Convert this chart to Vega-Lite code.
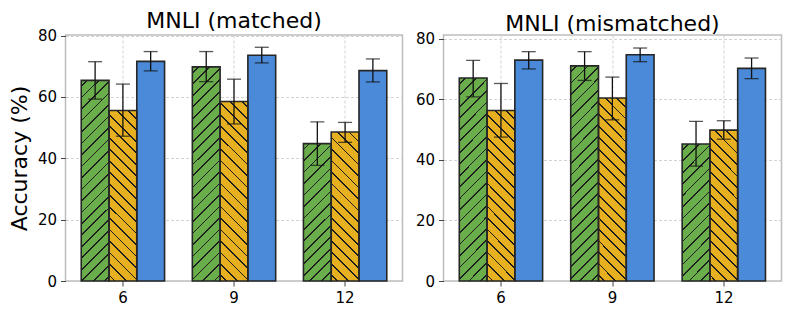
{
  "$schema": "https://vega.github.io/schema/vega-lite/v6.json",
  "padding": {"left": 7.5, "top": 8, "right": 5, "bottom": 5},
  "background": "white",
  "params": [
    {"name": "hatchStops", "value": [
      {"offset": 0, "color": "rgba(0,0,0,0)"},
      {"offset": 0.017, "color": "rgba(0,0,0,0)"}, {"offset": 0.017, "color": "#1e1e1e"}, {"offset": 0.023, "color": "#1e1e1e"}, {"offset": 0.023, "color": "rgba(0,0,0,0)"},
      {"offset": 0.0553, "color": "rgba(0,0,0,0)"}, {"offset": 0.0553, "color": "#1e1e1e"}, {"offset": 0.0613, "color": "#1e1e1e"}, {"offset": 0.0613, "color": "rgba(0,0,0,0)"},
      {"offset": 0.0937, "color": "rgba(0,0,0,0)"}, {"offset": 0.0937, "color": "#1e1e1e"}, {"offset": 0.0997, "color": "#1e1e1e"}, {"offset": 0.0997, "color": "rgba(0,0,0,0)"},
      {"offset": 0.132, "color": "rgba(0,0,0,0)"}, {"offset": 0.132, "color": "#1e1e1e"}, {"offset": 0.138, "color": "#1e1e1e"}, {"offset": 0.138, "color": "rgba(0,0,0,0)"},
      {"offset": 0.1703, "color": "rgba(0,0,0,0)"}, {"offset": 0.1703, "color": "#1e1e1e"}, {"offset": 0.1763, "color": "#1e1e1e"}, {"offset": 0.1763, "color": "rgba(0,0,0,0)"},
      {"offset": 0.2087, "color": "rgba(0,0,0,0)"}, {"offset": 0.2087, "color": "#1e1e1e"}, {"offset": 0.2147, "color": "#1e1e1e"}, {"offset": 0.2147, "color": "rgba(0,0,0,0)"},
      {"offset": 0.247, "color": "rgba(0,0,0,0)"}, {"offset": 0.247, "color": "#1e1e1e"}, {"offset": 0.253, "color": "#1e1e1e"}, {"offset": 0.253, "color": "rgba(0,0,0,0)"},
      {"offset": 0.2853, "color": "rgba(0,0,0,0)"}, {"offset": 0.2853, "color": "#1e1e1e"}, {"offset": 0.2913, "color": "#1e1e1e"}, {"offset": 0.2913, "color": "rgba(0,0,0,0)"},
      {"offset": 0.3237, "color": "rgba(0,0,0,0)"}, {"offset": 0.3237, "color": "#1e1e1e"}, {"offset": 0.3297, "color": "#1e1e1e"}, {"offset": 0.3297, "color": "rgba(0,0,0,0)"},
      {"offset": 0.362, "color": "rgba(0,0,0,0)"}, {"offset": 0.362, "color": "#1e1e1e"}, {"offset": 0.368, "color": "#1e1e1e"}, {"offset": 0.368, "color": "rgba(0,0,0,0)"},
      {"offset": 0.4003, "color": "rgba(0,0,0,0)"}, {"offset": 0.4003, "color": "#1e1e1e"}, {"offset": 0.4063, "color": "#1e1e1e"}, {"offset": 0.4063, "color": "rgba(0,0,0,0)"},
      {"offset": 0.4387, "color": "rgba(0,0,0,0)"}, {"offset": 0.4387, "color": "#1e1e1e"}, {"offset": 0.4447, "color": "#1e1e1e"}, {"offset": 0.4447, "color": "rgba(0,0,0,0)"},
      {"offset": 0.477, "color": "rgba(0,0,0,0)"}, {"offset": 0.477, "color": "#1e1e1e"}, {"offset": 0.483, "color": "#1e1e1e"}, {"offset": 0.483, "color": "rgba(0,0,0,0)"},
      {"offset": 0.5153, "color": "rgba(0,0,0,0)"}, {"offset": 0.5153, "color": "#1e1e1e"}, {"offset": 0.5213, "color": "#1e1e1e"}, {"offset": 0.5213, "color": "rgba(0,0,0,0)"},
      {"offset": 0.5537, "color": "rgba(0,0,0,0)"}, {"offset": 0.5537, "color": "#1e1e1e"}, {"offset": 0.5597, "color": "#1e1e1e"}, {"offset": 0.5597, "color": "rgba(0,0,0,0)"},
      {"offset": 0.592, "color": "rgba(0,0,0,0)"}, {"offset": 0.592, "color": "#1e1e1e"}, {"offset": 0.598, "color": "#1e1e1e"}, {"offset": 0.598, "color": "rgba(0,0,0,0)"},
      {"offset": 0.6303, "color": "rgba(0,0,0,0)"}, {"offset": 0.6303, "color": "#1e1e1e"}, {"offset": 0.6363, "color": "#1e1e1e"}, {"offset": 0.6363, "color": "rgba(0,0,0,0)"},
      {"offset": 0.6687, "color": "rgba(0,0,0,0)"}, {"offset": 0.6687, "color": "#1e1e1e"}, {"offset": 0.6747, "color": "#1e1e1e"}, {"offset": 0.6747, "color": "rgba(0,0,0,0)"},
      {"offset": 0.707, "color": "rgba(0,0,0,0)"}, {"offset": 0.707, "color": "#1e1e1e"}, {"offset": 0.713, "color": "#1e1e1e"}, {"offset": 0.713, "color": "rgba(0,0,0,0)"},
      {"offset": 0.7453, "color": "rgba(0,0,0,0)"}, {"offset": 0.7453, "color": "#1e1e1e"}, {"offset": 0.7513, "color": "#1e1e1e"}, {"offset": 0.7513, "color": "rgba(0,0,0,0)"},
      {"offset": 0.7837, "color": "rgba(0,0,0,0)"}, {"offset": 0.7837, "color": "#1e1e1e"}, {"offset": 0.7897, "color": "#1e1e1e"}, {"offset": 0.7897, "color": "rgba(0,0,0,0)"},
      {"offset": 0.822, "color": "rgba(0,0,0,0)"}, {"offset": 0.822, "color": "#1e1e1e"}, {"offset": 0.828, "color": "#1e1e1e"}, {"offset": 0.828, "color": "rgba(0,0,0,0)"},
      {"offset": 0.8603, "color": "rgba(0,0,0,0)"}, {"offset": 0.8603, "color": "#1e1e1e"}, {"offset": 0.8663, "color": "#1e1e1e"}, {"offset": 0.8663, "color": "rgba(0,0,0,0)"},
      {"offset": 0.8987, "color": "rgba(0,0,0,0)"}, {"offset": 0.8987, "color": "#1e1e1e"}, {"offset": 0.9047, "color": "#1e1e1e"}, {"offset": 0.9047, "color": "rgba(0,0,0,0)"},
      {"offset": 0.937, "color": "rgba(0,0,0,0)"}, {"offset": 0.937, "color": "#1e1e1e"}, {"offset": 0.943, "color": "#1e1e1e"}, {"offset": 0.943, "color": "rgba(0,0,0,0)"},
      {"offset": 0.9753, "color": "rgba(0,0,0,0)"}, {"offset": 0.9753, "color": "#1e1e1e"}, {"offset": 0.9813, "color": "#1e1e1e"}, {"offset": 0.9813, "color": "rgba(0,0,0,0)"},
      {"offset": 1, "color": "rgba(0,0,0,0)"}
    ]}
  ],
  "data": {"values": [
    {"panel": "matched", "layer": 6, "method": "A", "acc": 65.4, "lo": 59.3, "hi": 71.5},
    {"panel": "matched", "layer": 6, "method": "B", "acc": 55.6, "lo": 47.2, "hi": 64.2},
    {"panel": "matched", "layer": 6, "method": "C", "acc": 71.6, "lo": 68.5, "hi": 74.8},
    {"panel": "matched", "layer": 9, "method": "A", "acc": 69.8, "lo": 65.0, "hi": 74.8},
    {"panel": "matched", "layer": 9, "method": "B", "acc": 58.5, "lo": 51.2, "hi": 65.8},
    {"panel": "matched", "layer": 9, "method": "C", "acc": 73.6, "lo": 71.1, "hi": 76.2},
    {"panel": "matched", "layer": 12, "method": "A", "acc": 44.8, "lo": 37.7, "hi": 51.9},
    {"panel": "matched", "layer": 12, "method": "B", "acc": 48.6, "lo": 45.2, "hi": 51.7},
    {"panel": "matched", "layer": 12, "method": "C", "acc": 68.6, "lo": 64.9, "hi": 72.4},
    {"panel": "mismatched", "layer": 6, "method": "A", "acc": 67.0, "lo": 60.8, "hi": 72.8},
    {"panel": "mismatched", "layer": 6, "method": "B", "acc": 56.3, "lo": 47.5, "hi": 65.2},
    {"panel": "mismatched", "layer": 6, "method": "C", "acc": 72.9, "lo": 70.0, "hi": 75.7},
    {"panel": "mismatched", "layer": 9, "method": "A", "acc": 71.0, "lo": 66.2, "hi": 75.7},
    {"panel": "mismatched", "layer": 9, "method": "B", "acc": 60.4, "lo": 53.2, "hi": 67.3},
    {"panel": "mismatched", "layer": 9, "method": "C", "acc": 74.7, "lo": 72.4, "hi": 76.9},
    {"panel": "mismatched", "layer": 12, "method": "A", "acc": 45.2, "lo": 37.9, "hi": 52.7},
    {"panel": "mismatched", "layer": 12, "method": "B", "acc": 49.8, "lo": 46.8, "hi": 52.9},
    {"panel": "mismatched", "layer": 12, "method": "C", "acc": 70.2, "lo": 66.8, "hi": 73.6}
  ]},
  "spacing": 11,
  "hconcat": [
    {
      "width": 337, "height": 246,
      "title": {"text": "MNLI (matched)"},
      "transform": [{"filter": "datum.panel == 'matched'"}],
      "encoding": {
        "x": {"field": "layer", "type": "ordinal", "title": null,
              "scale": {"paddingInner": 0.25, "paddingOuter": 0.1416},
              "axis": {"labelAngle": 0, "grid": true}},
        "xOffset": {"field": "method", "type": "nominal", "sort": ["A", "B", "C"], "scale": {"paddingInner": 0, "paddingOuter": 0}}
      },
      "layer": [
        {"mark": {"type": "bar", "stroke": null, "strokeWidth": 0},
         "encoding": {
           "y": {"field": "acc", "type": "quantitative", "stack": null, "title": "Accuracy (%)",
                 "scale": {"domain": [0, 80.2], "nice": false},
                 "axis": {"values": [0, 20, 40, 60, 80]}},
           "fill": {"field": "method", "type": "nominal", "legend": null,
                    "scale": {"domain": ["A", "B", "C"], "range": ["#6aae4c", "#e6b020", "#4a8ad8"]}}
         }},
        {"mark": {"type": "bar", "stroke": "#262626", "strokeWidth": 1.6,
                  "fill": {"expr": "datum.method == 'C' ? 'rgba(0,0,0,0)' : {gradient: 'linear', x1: 0, y1: (datum.method == 'A' ? 0 : 1), x2: 300*27.8/(27.8*27.8 + pow(datum.acc*3.072, 2)), y2: (datum.method == 'A' ? 300*datum.acc*3.072/(27.8*27.8 + pow(datum.acc*3.072, 2)) : 1 - 300*datum.acc*3.072/(27.8*27.8 + pow(datum.acc*3.072, 2))), stops: hatchStops}"}},
         "encoding": {"y": {"field": "acc", "type": "quantitative", "stack": null}}},
        {"mark": {"type": "rule", "color": "#111111", "strokeWidth": 1.3},
         "encoding": {"y": {"field": "lo", "type": "quantitative"}, "y2": {"field": "hi"}}},
        {"mark": {"type": "tick", "color": "#111111", "thickness": 1.3, "size": 14},
         "encoding": {"y": {"field": "lo", "type": "quantitative"}}},
        {"mark": {"type": "tick", "color": "#111111", "thickness": 1.3, "size": 14},
         "encoding": {"y": {"field": "hi", "type": "quantitative"}}}
      ]
    },
    {
      "width": 338, "height": 246,
      "title": {"text": "MNLI (mismatched)"},
      "transform": [{"filter": "datum.panel == 'mismatched'"}],
      "encoding": {
        "x": {"field": "layer", "type": "ordinal", "title": null,
              "scale": {"paddingInner": 0.25, "paddingOuter": 0.1416},
              "axis": {"labelAngle": 0, "grid": true}},
        "xOffset": {"field": "method", "type": "nominal", "sort": ["A", "B", "C"], "scale": {"paddingInner": 0, "paddingOuter": 0}}
      },
      "layer": [
        {"mark": {"type": "bar", "stroke": null, "strokeWidth": 0},
         "encoding": {
           "y": {"field": "acc", "type": "quantitative", "stack": null, "title": null,
                 "scale": {"domain": [0, 81.2], "nice": false},
                 "axis": {"values": [0, 20, 40, 60, 80]}},
           "fill": {"field": "method", "type": "nominal", "legend": null,
                    "scale": {"domain": ["A", "B", "C"], "range": ["#6aae4c", "#e6b020", "#4a8ad8"]}}
         }},
        {"mark": {"type": "bar", "stroke": "#262626", "strokeWidth": 1.6,
                  "fill": {"expr": "datum.method == 'C' ? 'rgba(0,0,0,0)' : {gradient: 'linear', x1: 0, y1: (datum.method == 'A' ? 0 : 1), x2: 300*28/(28*28 + pow(datum.acc*3.034, 2)), y2: (datum.method == 'A' ? 300*datum.acc*3.034/(28*28 + pow(datum.acc*3.034, 2)) : 1 - 300*datum.acc*3.034/(28*28 + pow(datum.acc*3.034, 2))), stops: hatchStops}"}},
         "encoding": {"y": {"field": "acc", "type": "quantitative", "stack": null}}},
        {"mark": {"type": "rule", "color": "#111111", "strokeWidth": 1.3},
         "encoding": {"y": {"field": "lo", "type": "quantitative"}, "y2": {"field": "hi"}}},
        {"mark": {"type": "tick", "color": "#111111", "thickness": 1.3, "size": 14},
         "encoding": {"y": {"field": "lo", "type": "quantitative"}}},
        {"mark": {"type": "tick", "color": "#111111", "thickness": 1.3, "size": 14},
         "encoding": {"y": {"field": "hi", "type": "quantitative"}}}
      ]
    }
  ],
  "config": {
    "font": "DejaVu Sans",
    "view": {"stroke": "#bdbdbd", "strokeWidth": 1.5},
    "title": {"fontSize": 22, "fontWeight": "normal", "color": "#000000", "offset": -4, "frame": "group", "font": "DejaVu Sans"},
    "axis": {
      "domain": false,
      "labelFontSize": 15, "labelColor": "#000000", "labelPadding": 4,
      "tickColor": "#444444", "tickSize": 5, "tickWidth": 1,
      "gridColor": "#c8c8c8", "gridDash": [3, 2], "gridWidth": 0.8,
      "titleFontSize": 22, "titleFontWeight": "normal", "titleColor": "#000000", "titlePadding": 6
    }
  }
}
